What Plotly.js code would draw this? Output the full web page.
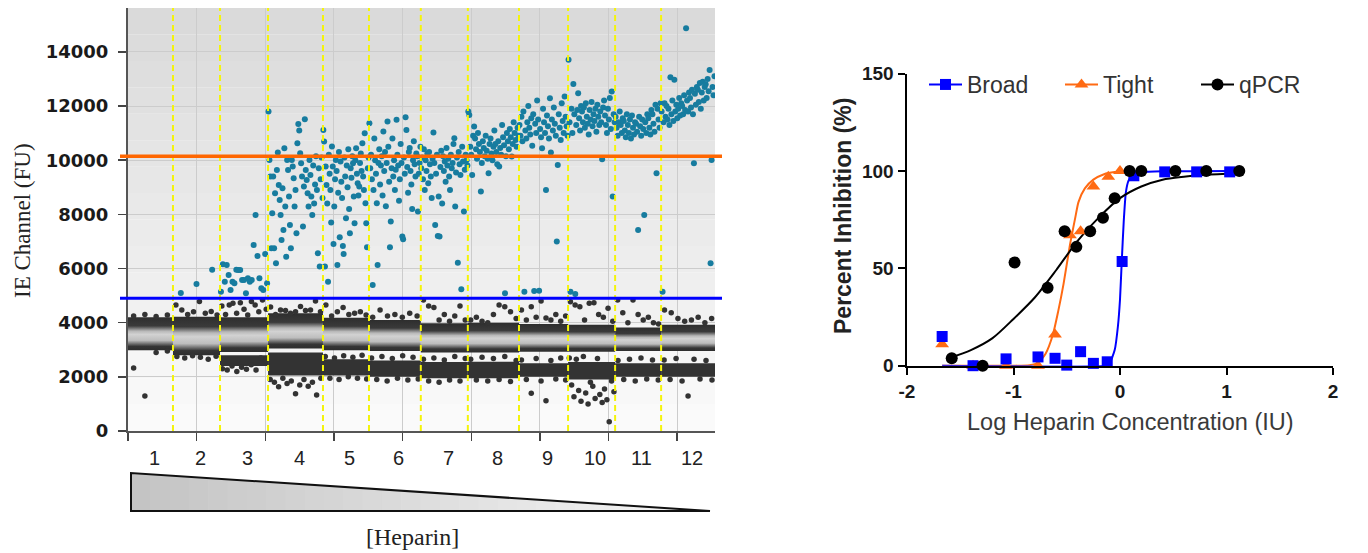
<!DOCTYPE html>
<html><head><meta charset="utf-8">
<script src="https://cdn.plot.ly/plotly-3.0.1.min.js"></script>
<style>html,body{margin:0;padding:0;background:#fff}#chart{width:1368px;height:553px}</style>
</head><body><div id="chart"></div>
<script>
// ---------------- LEFT PANEL DATA (droplet amplitudes, FU) ----------------
const wellLabels = ['1','2','3','4','5','6','7','8','9','10','11','12'];
const wellEvents = [13.1, 13.7, 14.0, 16.0, 13.4, 15.1, 13.7, 14.9, 14.3, 13.7, 13.4, 15.7]; // thousand events per well
const thresholdHigh = 10150;
const thresholdLow = 4900;

// positive droplets (teal) per well, in event order
const pos1 = [];
const pos2 = [5100, 5430, 5950];
const pos3 = [5146, 6157, 5515, 6132, 5763, 5209, 5515, 5456, 5950, 5947, 5947, 5578, 5578, 5086, 5640, 5515, 5578, 6871, 7979, 6464, 5640, 5271, 5209, 6538, 5456];
const pos4 = [11795, 10011, 9394, 6749, 8040, 9394, 6749, 8781, 6195, 9641, 10281, 9087, 8533, 7979, 7056, 8965, 7425, 10443, 8286, 6439, 10011, 9641, 8656, 7610, 6749, 10011, 9764, 9333, 8286, 8903, 7303, 10627, 11341, 11094, 10257, 9888, 9394, 7547, 9025, 11514, 9641, 9272, 8781, 8286, 10011, 9456, 8656, 7979, 9800, 8400, 9100, 10150, 8900, 6564, 9700, 6070, 9300, 10100, 8600];
const pos5 = [11119, 10687, 6070, 9764, 9087, 8400, 5515, 10200, 9500, 8900, 7700, 10502, 9764, 6908, 8286, 9300, 10011, 9600, 6132, 8800, 10300, 7155, 9950, 9200, 8600, 6834, 6538, 10100, 9400, 7857, 9800, 9000, 10400, 8200, 7303, 9700, 9350, 10150, 9888, 8656, 7671, 10000, 10443, 9500, 9150, 8700, 9025, 9900, 10250, 9600, 10627, 9400, 8900, 10996, 8410, 7671, 6785, 9700, 10100];
const pos6 = [11366, 9700, 10200, 9300, 5393, 8900, 10800, 10000, 9500, 8410, 6132, 9900, 10400, 9100, 9800, 10150, 8700, 11057, 9600, 10300, 8300, 9900, 11428, 10500, 9200, 6785, 7733, 9700, 10800, 9400, 10000, 8900, 9650, 11489, 10200, 9800, 8500, 9300, 10600, 9900, 7178, 7081, 10100, 9500, 11588, 11119, 9750, 8800, 10300, 10450, 9600, 9100, 8200, 10000, 10700, 9850, 9400, 10250, 10150, 8101, 9500, 9900, 10500];
const pos7 = [9700, 10100, 9300, 10400, 8900, 10000, 9600, 10250, 9150, 10300, 9850, 9400, 8600, 10050, 11020, 9900, 7610, 9500, 10200, 7203, 8656, 7178, 9750, 10350, 8400, 10150, 9600, 9950, 9200, 10450, 9800, 10050, 9400, 8900, 10200, 9700, 9900, 10600, 10812, 8286, 9550, 10100, 6217, 10300, 9850, 9450, 5234, 10500, 9950, 8101, 9650, 10200, 10000, 9800];
const pos8 = [11795, 11673, 10500, 10200, 9457, 10900, 11241, 10800, 10400, 10050, 11000, 10600, 10300, 8840, 9900, 10700, 10450, 10150, 10900, 10350, 10050, 9519, 10600, 10800, 10250, 10000, 10500, 11100, 10600, 10300, 9850, 10700, 9764, 10450, 10200, 11300, 10850, 10550, 5086, 10150, 11000, 10700, 10400, 11150, 10850, 10133, 10600, 11400, 11000, 10750, 10500, 11200, 10900];
const pos9 = [11300, 10900, 11600, 10700, 11800, 5146, 11100, 10800, 11400, 12000, 11200, 10950, 11550, 10530, 11700, 5172, 11350, 11000, 12200, 11500, 5183, 11150, 10850, 10443, 11900, 11400, 11000, 8903, 11650, 11250, 10800, 12287, 10281, 11500, 11100, 11950, 11350, 10900, 6993, 9826, 11700, 11200, 10750, 12100, 11450, 11000, 12349, 11600, 11250, 10900];
const pos10 = [13705, 11400, 5146, 11900, 11000, 12818, 11700, 5061, 11300, 11850, 12475, 11550, 11100, 12000, 11800, 11400, 11950, 11200, 12100, 11600, 11350, 10950, 11850, 11500, 12150, 11250, 11700, 11450, 11900, 11050, 12050, 11600, 11300, 11800, 11400, 10036, 11950, 12200, 11650, 11300, 11000, 11900, 11500, 12300, 11150, 12534, 8656, 11700, 11400];
const pos11 = [11600, 11200, 10900, 11400, 11800, 11300, 11000, 11550, 11450, 11100, 10850, 11700, 11300, 11000, 11500, 10800, 11650, 11200, 10950, 11400, 11350, 11050, 7425, 11600, 11250, 10900, 11500, 11150, 7979, 11400, 11000, 11700, 11550, 11200, 10950, 11850, 11700, 11350, 11050, 12050, 9519, 11900, 11500, 11200, 12100];
const pos12 = [11800, 5146, 11400, 12100, 11600, 12000, 11500, 11900, 11300, 13062, 11700, 12200, 11450, 12966, 11800, 12050, 11550, 11900, 12300, 11650, 12100, 12000, 11700, 12400, 11850, 14875, 12200, 11800, 12500, 12300, 11950, 12600, 11700, 9888, 12450, 12050, 12700, 12600, 12150, 12850, 11900, 12500, 12900, 12200, 12700, 12800, 12300, 13000, 12550, 13335, 6195, 10011, 12700, 12400, 13100];

// negative droplet population: main band (per well)
const negTop    = [4200, 4220, 4200, 4350, 4180, 4100, 3980, 4000, 3950, 3920, 3820, 3920];
const negBottom = [2980, 2800, 2920, 3050, 2980, 2950, 2900, 2900, 2930, 2930, 2950, 2950];
// secondary (lower) negative cluster
const lowTop    = [null, null, 2800, 2900, 2650, 2600, 2550, 2560, 2500, 2550, 2500, 2500];
const lowBottom = [null, null, 2400, 2050, 2050, 2000, 1950, 1950, 2000, 1900, 2000, 2000];
// scattered negatives above the band
const negUp1 = [4250, 4300, 4230, 4280];
const negUp2 = [4650, 4470, 4300, 4400, 4780, 4350, 4410, 4280];
const negUp3 = [4620, 4300, 4650, 4720, 4350, 4740, 4500, 4280, 4780, 4650, 4400, 4840, 4500];
const negUp4 = [4580, 4300, 4470, 4450, 4350, 4407, 4600, 4450, 4470, 4800, 4400];
const negUp5 = [4650, 4250, 4400, 4560, 4300, 4350, 4400, 4280];
const negUp6 = [4200, 4470, 4250, 4300, 4200, 4350, 4250];
const negUp7 = [4840, 4617, 4560, 4100, 4300, 4050, 4250, 4617, 4100];
const negUp8 = [4100, 4200, 4050, 4000, 4300, 4650, 4590, 4400, 4150];
const negUp9 = [4470, 4100, 4590, 4200, 4800, 4174, 4100, 4300, 4050, 4250];
const negUp10 = [4776, 4654, 4592, 4100, 4716, 4740, 4300, 4200, 4531, 4050];
const negUp11 = [4839, 4370, 4000, 4839, 4300, 4100, 4200, 4000, 3950];
const negUp12 = [4470, 4370, 4150, 4050, 4100, 4200, 4000, 4150];
// scattered negatives around / below the lower cluster
const negLow1 = [2327, 1293, 2900, 2950];
const negLow2 = [2750, 2700, 2780, 2720, 2650, 2760];
const negLow3 = [2300, 2250, 2400, 2200, 2350, 2280, 2450, 2250, 2700, 2600];
const negLow4 = [1900, 1800, 1637, 1950, 1750, 1850, 1378, 1700, 1900, 1650, 1800, 1330, 1950];
const negLow5 = [2750, 1950, 2700, 1900, 2780, 2000, 2720, 1950, 2800, 1920];
const negLow6 = [2700, 1900, 2750, 1850, 2680, 1950, 2780, 1880, 2720, 1920];
const negLow7 = [2650, 1850, 2700, 1800, 2620, 1880, 2750, 1850, 2680];
const negLow8 = [2650, 1880, 2720, 1850, 2680, 1900, 2750, 1830, 2600];
const negLow9 = [2620, 1900, 1392, 2680, 1850, 1119, 2600, 1920, 2700, 1880];
const negLow10 = [2700, 1700, 1267, 2650, 1500, 1100, 2750, 1400, 1000, 1800, 1650, 1200, 2680, 1350, 1050, 1550, 1150, 344, 1850, 1450];
const negLow11 = [2600, 1900, 2650, 1850, 2700, 1920, 2620, 1880];
const negLow12 = [2620, 1900, 2680, 1850, 1293, 2650, 1920, 2600, 1880];

// ---------------- RIGHT PANEL DATA ----------------
const broadX = [-1.67, -1.38, -1.07, -0.77, -0.61, -0.50, -0.37, -0.25, -0.12, 0.02, 0.13, 0.42, 0.72, 1.03];
const broadY = [15, 0, 3.5, 4.5, 3.8, 0.3, 7.2, 1.2, 2, 53.5, 97.5, 99.5, 99.5, 99.5];
const tightX = [-1.67, -1.38, -1.07, -0.77, -0.61, -0.47, -0.37, -0.25, -0.11, 0.0];
const tightY = [11, 0, 0, 0, 16, 67, 69, 92, 97, 100];
const qpcrX = [-1.58, -1.29, -0.99, -0.68, -0.52, -0.41, -0.28, -0.16, -0.05, 0.09, 0.2, 0.52, 0.81, 1.12];
const qpcrY = [3.8, 0, 53, 40, 69, 61, 69, 76, 86, 100, 100, 100, 100, 100];
// fitted curves
const broadFitX = [-1.67, -0.15, -0.1, -0.05, -0.02, 0.0, 0.016, 0.035, 0.055, 0.08, 0.12, 0.2, 0.4, 1.05];
const broadFitY = [0, 0, 1, 8, 20, 34, 53, 74, 89, 95, 98, 99.3, 99.8, 100];
const tightFitX = [-1.67, -1.0, -0.85, -0.77, -0.7, -0.63, -0.58, -0.53, -0.47, -0.42, -0.39, -0.33, -0.25, -0.15, -0.05, 0.1];
const tightFitY = [0, 0, 0.3, 1.5, 6, 16, 28, 42, 62, 76, 84, 91, 95.5, 98.3, 99.4, 100];
const qpcrFitX = [-1.6, -1.4, -1.2, -1.0, -0.8, -0.6, -0.4, -0.2, 0.0, 0.2, 0.4, 0.6, 0.8, 1.12];
const qpcrFitY = [4, 8, 14, 24, 35, 49, 64, 76, 86, 92, 95.5, 97, 98, 98.8];
const rightXTicks = ['-2', '-1', '0', '1', '2'];

// ---------------- BUILD ----------------
const W = 1368, H = 553;
const px = v => v / W, py = v => (H - v) / H;
const Y_MAX = 15620;

const wellStart = [];
let acc = 0;
wellEvents.forEach(e => { wellStart.push(acc); acc += e; });
const totalEvents = acc;

const posWells = [pos1,pos2,pos3,pos4,pos5,pos6,pos7,pos8,pos9,pos10,pos11,pos12];
const upWells = [negUp1,negUp2,negUp3,negUp4,negUp5,negUp6,negUp7,negUp8,negUp9,negUp10,negUp11,negUp12];
const lowWells = [negLow1,negLow2,negLow3,negLow4,negLow5,negLow6,negLow7,negLow8,negLow9,negLow10,negLow11,negLow12];

function spread(wells) {
  const xs = [], ys = [];
  wells.forEach((vals, w) => {
    vals.forEach((v, i) => {
      xs.push(wellStart[w] + (i + 0.5) / vals.length * wellEvents[w]);
      ys.push(v);
    });
  });
  return {xs, ys};
}
const xLeft = i => (i === 0 ? 0 : wellStart[i]);
const xRight = i => (i === wellEvents.length - 1 ? totalEvents : wellStart[i] + wellEvents[i]);

const traces = [];
// main negative band: one gradient-filled block per well (dark rims, light core)
const bandScale = [[0, '#2e2e2e'], [0.12, '#363636'], [0.3, '#bdbdbd'], [0.48, '#d2d2d2'], [0.58, '#b8b8b8'], [0.74, '#3a3a3a'], [1, '#2e2e2e']];
negTop.forEach((t, i) => {
  traces.push({type: 'scatter', mode: 'lines', x: [xLeft(i), xRight(i), xRight(i), xLeft(i)], y: [negBottom[i], negBottom[i], t, t],
    fill: 'toself', fillgradient: {type: 'vertical', colorscale: bandScale}, line: {width: 0},
    hoverinfo: 'skip', showlegend: false, xaxis: 'x', yaxis: 'y'});
});
lowTop.forEach((t, i) => {
  if (t == null) return;
  traces.push({type: 'scatter', mode: 'lines', x: [xLeft(i), xRight(i), xRight(i), xLeft(i)], y: [lowBottom[i], lowBottom[i], t, t],
    fill: 'toself', fillcolor: '#333333', line: {width: 0}, hoverinfo: 'skip', showlegend: false, xaxis: 'x', yaxis: 'y'});
});
const up = spread(upWells), low = spread(lowWells), pos = spread(posWells);
traces.push({type: 'scatter', mode: 'markers', x: up.xs.concat(low.xs), y: up.ys.concat(low.ys),
  marker: {color: '#333333', size: 5.5}, hoverinfo: 'skip', showlegend: false, xaxis: 'x', yaxis: 'y'});
traces.push({type: 'scatter', mode: 'markers', x: pos.xs, y: pos.ys,
  marker: {color: '#177c9f', size: 6}, hoverinfo: 'skip', showlegend: false, xaxis: 'x', yaxis: 'y'});

// right panel
function gapped(xs, ys) {
  const gx = [], gy = [];
  xs.forEach((x, i) => { gx.push(x, null); gy.push(ys[i], null); });
  return {gx, gy};
}
const blue = '#0000ff', orange = '#ff6a13', black = '#000000';
traces.push({type: 'scatter', mode: 'lines', x: tightFitX, y: tightFitY, line: {color: orange, width: 2, shape: 'spline', smoothing: 0.6}, showlegend: false, xaxis: 'x3', yaxis: 'y3', cliponaxis: false});
traces.push({type: 'scatter', mode: 'lines', x: broadFitX, y: broadFitY, line: {color: blue, width: 2, shape: 'spline', smoothing: 0.5}, showlegend: false, xaxis: 'x3', yaxis: 'y3', cliponaxis: false});
traces.push({type: 'scatter', mode: 'lines', x: qpcrFitX, y: qpcrFitY, line: {color: black, width: 2, shape: 'spline', smoothing: 0.8}, showlegend: false, xaxis: 'x3', yaxis: 'y3', cliponaxis: false});
const gT = gapped(tightX, tightY), gB = gapped(broadX, broadY), gQ = gapped(qpcrX, qpcrY);
traces.push({type: 'scatter', mode: 'lines+markers', name: 'Tight', legendrank: 2, x: gT.gx, y: gT.gy, connectgaps: false,
  marker: {symbol: 'triangle-up', size: 12, color: orange}, line: {color: orange, width: 2}, xaxis: 'x3', yaxis: 'y3', cliponaxis: false});
traces.push({type: 'scatter', mode: 'lines+markers', name: 'Broad', legendrank: 1, x: gB.gx, y: gB.gy, connectgaps: false,
  marker: {symbol: 'square', size: 11, color: blue}, line: {color: blue, width: 2}, xaxis: 'x3', yaxis: 'y3', cliponaxis: false});
traces.push({type: 'scatter', mode: 'lines+markers', name: 'qPCR', legendrank: 3, x: gQ.gx, y: gQ.gy, connectgaps: false,
  marker: {symbol: 'circle', size: 12, color: black}, line: {color: black, width: 2}, xaxis: 'x3', yaxis: 'y3', cliponaxis: false});

// shapes
const shapes = [];
function grey(v) { const h = Math.round(v).toString(16).padStart(2, '0'); return '#' + h + h + h; }
const bgSteps = 16;
for (let k = 0; k < bgSteps; k++) {
  shapes.push({type: 'rect', xref: 'x', yref: 'y', x0: 0, x1: totalEvents, y0: Y_MAX * k / bgSteps, y1: Y_MAX * (k + 1) / bgSteps,
    fillcolor: grey(251 - (251 - 217) * (k + 0.5) / bgSteps), line: {width: 0}, layer: 'below'});
}
for (let i = 1; i < wellEvents.length; i++) {
  shapes.push({type: 'line', xref: 'x', yref: 'y', x0: wellStart[i], x1: wellStart[i], y0: 0, y1: Y_MAX,
    line: {color: '#f4f40c', width: 2, dash: '6px,4px'}, layer: 'above'});
}
shapes.push({type: 'line', xref: 'paper', yref: 'y', x0: px(120), x1: px(722), y0: thresholdHigh, y1: thresholdHigh, line: {color: '#ff6600', width: 3.5}, layer: 'above'});
shapes.push({type: 'line', xref: 'paper', yref: 'y', x0: px(120), x1: px(722), y0: thresholdLow, y1: thresholdLow, line: {color: '#0000ff', width: 3}, layer: 'above'});
// concentration wedge (gradient strips + outline)
const wx0 = px(131), wx1 = px(710), wyT = py(473), wyB = py(511);
const wedgeSteps = 30;
for (let k = 0; k < wedgeSteps; k++) {
  const a = wx0 + (wx1 - wx0) * k / wedgeSteps, b = wx0 + (wx1 - wx0) * (k + 1) / wedgeSteps + 0.0005;
  const ta = wyT + (wyB - wyT) * (a - wx0) / (wx1 - wx0), tb = wyT + (wyB - wyT) * Math.min(1, (b - wx0) / (wx1 - wx0));
  shapes.push({type: 'path', xref: 'paper', yref: 'paper', path: `M ${a},${ta} L ${b},${tb} L ${b},${wyB} L ${a},${wyB} Z`,
    fillcolor: grey(196 + (246 - 196) * k / (wedgeSteps - 1)), line: {width: 0}});
}
shapes.push({type: 'path', xref: 'paper', yref: 'paper', path: `M ${wx0},${wyT} L ${wx0},${wyB} L ${wx1},${wyB} Z`,
  fillcolor: 'rgba(0,0,0,0)', line: {color: '#111', width: 2}});

// annotations
const annotations = [];
wellLabels.forEach((t, i) => {
  annotations.push({xref: 'x', yref: 'paper', x: wellStart[i] + wellEvents[i] / 2 + 1.1, y: py(458), text: t, showarrow: false,
    font: {family: 'Liberation Sans, Arial, sans-serif', size: 20, color: '#222'}, xanchor: 'center', yanchor: 'middle'});
});
annotations.push({xref: 'paper', yref: 'paper', x: px(22), y: py(221), text: 'IE Channel (FU)', textangle: -90, showarrow: false,
  font: {family: 'Liberation Serif, Times New Roman, serif', size: 23, color: '#222'}, xanchor: 'center', yanchor: 'middle'});
annotations.push({xref: 'paper', yref: 'paper', x: px(412), y: py(537), text: '[Heparin]', showarrow: false,
  font: {family: 'Liberation Serif, Times New Roman, serif', size: 24, color: '#222'}, xanchor: 'center', yanchor: 'middle'});
annotations.push({xref: 'paper', yref: 'paper', x: px(843), y: py(216), text: 'Percent Inhibition (%)', textangle: -90, showarrow: false,
  font: {family: 'Liberation Sans, Arial, sans-serif', size: 23, color: '#222', weight: 'bold'}, xanchor: 'center', yanchor: 'middle'});
annotations.push({xref: 'paper', yref: 'paper', x: px(1130), y: py(422), text: 'Log Heparin Concentration (IU)', showarrow: false,
  font: {family: 'Liberation Sans, Arial, sans-serif', size: 23.5, color: '#3a3a3a'}, xanchor: 'center', yanchor: 'middle'});

const layout = {
  width: W, height: H, margin: {l: 0, r: 0, t: 0, b: 0}, paper_bgcolor: '#ffffff', plot_bgcolor: 'rgba(0,0,0,0)',
  showlegend: true,
  xaxis: {domain: [px(128), px(715)], range: [0, totalEvents], tick0: 0, dtick: 20, ticks: 'outside', ticklen: 8, tickwidth: 1.5,
    tickcolor: '#444', showticklabels: false, showline: true, linecolor: '#555', linewidth: 2, showgrid: true,
    gridcolor: '#cccccc', gridwidth: 1, zeroline: false, anchor: 'y'},
  yaxis: {domain: [py(431), py(8)], range: [0, Y_MAX], tick0: 0, dtick: 2000, tickformat: 'd', ticks: 'outside', ticklen: 8, tickwidth: 1.5,
    tickcolor: '#444', showline: true, linecolor: '#555', linewidth: 2, showgrid: true, gridcolor: '#cccccc', zeroline: false,
    tickfont: {family: 'DejaVu Sans, Verdana, sans-serif', size: 18, color: '#1a1a1a', weight: 'bold'}, ticklabelstandoff: 6, anchor: 'x'},
  yaxis2: {overlaying: 'y', side: 'right', anchor: 'x', range: [0, Y_MAX], tick0: 0, dtick: 2000, ticks: 'inside', ticklen: 5,
    tickcolor: '#555', showticklabels: false, showline: true, linecolor: '#555', linewidth: 2, showgrid: false, zeroline: false},
  xaxis3: {domain: [px(907), px(1333)], range: [-2, 2], tickvals: [-2, -1, 0, 1, 2], ticktext: rightXTicks, ticks: 'outside',
    ticklen: 7, tickwidth: 2, tickcolor: '#000', showline: true, linecolor: '#000', linewidth: 2.5, showgrid: false, zeroline: false,
    tickfont: {family: 'Liberation Sans, Arial, sans-serif', size: 19, color: '#1a1a1a', weight: 'bold'}, anchor: 'y3'},
  yaxis3: {domain: [py(365.7), py(73.5)], range: [0, 150], tick0: 0, dtick: 50, ticks: 'outside', ticklen: 7, tickwidth: 2,
    tickcolor: '#000', showline: true, linecolor: '#000', linewidth: 2.5, showgrid: false, zeroline: false,
    tickfont: {family: 'Liberation Sans, Arial, sans-serif', size: 19, color: '#1a1a1a', weight: 'bold'}, anchor: 'x3'},
  legend: {orientation: 'h', x: px(924), y: py(63), xanchor: 'left', yanchor: 'top', bgcolor: 'rgba(0,0,0,0)',
    font: {family: 'Liberation Sans, Arial, sans-serif', size: 23, color: '#333'}, entrywidth: 88, itemwidth: 33, traceorder: 'normal'},
  shapes: shapes,
  annotations: annotations
};
Plotly.newPlot('chart', traces, layout, {staticPlot: true, displayModeBar: false});
</script></body></html>
